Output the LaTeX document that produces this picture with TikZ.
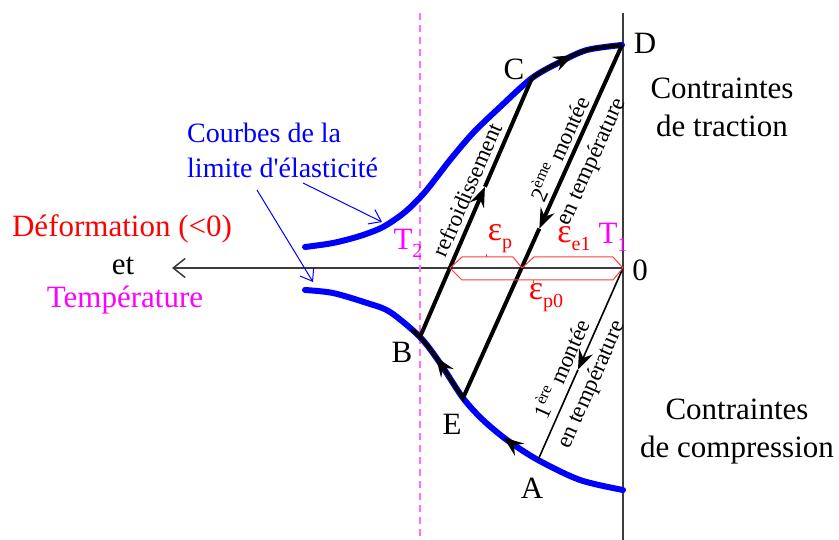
\documentclass[tikz,border=0pt]{standalone}
\usepackage{fontspec}
\setmainfont{Liberation Serif}
\usetikzlibrary{arrows.meta,decorations.markings,calc}
\definecolor{cblue}{RGB}{0,0,255}
\definecolor{cmag}{RGB}{255,0,255}
\definecolor{cred}{RGB}{255,0,0}
\definecolor{cbrace}{RGB}{255,60,60}
\definecolor{cdash}{RGB}{255,110,255}
\definecolor{caxis}{RGB}{60,60,60}
\newcommand\mysub[1]{\raisebox{-8pt}{\fontsize{20}{20}\selectfont #1}}
\newcommand\myeps{{\fontsize{34}{34}\selectfont ε}}
\begin{document}
\begin{tikzpicture}[x=1pt,y=-1pt,
  txt/.style={font=\fontsize{31}{38}\selectfont, inner sep=0pt, align=center},
  rottxt/.style={font=\fontsize{23}{28}\selectfont, inner sep=0pt},
  blueline/.style={line width=6pt, cblue, line cap=round},
  thickline/.style={line width=4pt, black},
  thinline/.style={line width=1.6pt, black},
  axisline/.style={line width=1.5pt, caxis},
  bracebox/.style={line width=1pt, cbrace, line join=miter},
  pointer/.style={line width=1pt, cblue, -{Straight Barb[length=11pt,width=16pt,line width=1pt]}},
  tiparr/.style={-{Stealth[length=20pt,width=15pt,inset=7pt]}},
  midarr/.style={postaction={decorate}, decoration={markings,
     mark=at position #1 with {\arrow{Stealth[length=20pt,width=15pt,inset=7pt]}}}},
]
\useasboundingbox (0,0) rectangle (839,540);

% key points
\coordinate (O) at (623,268);
\coordinate (A) at (538,460);
\coordinate (B) at (420,337);
\coordinate (C) at (532,78);
\coordinate (D) at (622,45);
\coordinate (E) at (463,398);
\coordinate (X) at (450,268);
\coordinate (Y) at (522,268);
\coordinate (axtop) at (623,13);
\coordinate (axbot) at (623,540);
\coordinate (axleft) at (172,268);
\coordinate (dtop) at (420,13);
\coordinate (dbot) at (420,540);

% axes
\draw[axisline] (axtop) -- (axbot);
\draw[axisline, -{Straight Barb[length=12pt,width=19pt,line width=1.5pt]}] (O) -- (axleft);
\draw[cdash, line width=1.6pt, dash pattern=on 7pt off 5pt] (dtop) -- (dbot);

% yield curves
\def\uppercurve{plot[smooth] coordinates {(305,247) (333,243) (360,236) (383,227) (405,212) (425,192) (450,160) (473,133) (500,107) (532,78) (560,62) (587,50) (622,45)}}
\def\lowercurve{plot[smooth] coordinates {(623,490) (580,480) (538,460) (507,440) (483,420) (463,398) (440,363) (420,337) (390,312) (367,303) (333,293) (305,290)}}
\draw[blueline] \uppercurve;
\draw[blueline, postaction={decorate}, decoration={markings,
   mark=at position 132pt with {\arrow[black]{Stealth[length=20pt,width=15pt,inset=7pt]}}}] \lowercurve;

% black overlays
\begin{scope}
  \clip (531,0) rectangle (640,120);
  \draw[thickline, midarr=340pt] \uppercurve;
\end{scope}
\begin{scope}
  \clip (410,330) rectangle (464,420);
  \draw[thickline, midarr=238pt] \lowercurve;
\end{scope}

% loading lines (arrow tip drawn at the middle)
\coordinate (mBC) at ($(B)!0.58!(C)$);
\coordinate (mDE) at ($(D)!0.52!(E)$);
\coordinate (mOA) at ($(O)!0.53!(A)$);
\draw[thickline, tiparr] (B) -- (mBC);
\draw[thickline] (mBC) -- (C);
\draw[thickline, tiparr] (D) -- (mDE);
\draw[thickline] (mDE) -- (E);
\draw[thinline, tiparr] (O) -- (mOA);
\draw[thinline] (mOA) -- (A);

% braces
\draw[bracebox] (X) -- ++(12,-11) -- (513,257) -- (Y);
\draw[bracebox] (486,257) -- (486,254);
\draw[bracebox] (Y) -- ++(12,-11) -- (613,257) -- (O);
\draw[bracebox] (X) -- ++(12,12) -- (613,280) -- (O);
\draw[bracebox] (533,280) -- (533,283);

% point labels
\node[txt] (lC) at (514,69) {C};
\node[txt] (lD) at (645,43) {D};
\node[txt] (lB) at (402,352) {B};
\node[txt] (lE) at (452,424) {E};
\node[txt] (lA) at (532,488) {A};
\node[txt] (lO) at (640,270) {0};

% temperature labels
\node[txt, text=cmag] (T2) at (408,243) {T\mysub{2}};
\node[txt, text=cmag] (T1) at (613,237) {T\mysub{1}};

% strain labels
\node[txt, text=cred] (ep) at (500,239) {\myeps\mysub{p}};
\node[txt, text=cred] (ee) at (574,239) {\myeps\mysub{e1}};
\node[txt, text=cred] (ep0) at (546,298) {\myeps\mysub{p0}};

% rotated labels
\node[rottxt, rotate=66.6] (refr) at (467,190) {refroidissement};
\node[rottxt, rotate=65.7] (m2a) at (558,148) {2\textsuperscript{ème} montée};
\node[rottxt, rotate=65.7] (m2b) at (592,162) {en température};
\node[rottxt, rotate=66.1] (m1a) at (560,368) {1\textsuperscript{ère} montée};
\node[rottxt, rotate=66.1] (m1b) at (592,385) {en température};

% side texts
\node[txt] (trac) at (722,107) {Contraintes\\de traction};
\node[txt] (comp) at (737,432) {Contraintes\\de compression};
\node[txt, text=cred] (def) at (122,229) {Déformation (<0)};
\node[txt] (et) at (123,266) {et};
\node[txt, text=cmag] (temp) at (125,300) {Température};
\node[txt, text=cblue, align=left, anchor=west, font=\fontsize{28}{35}\selectfont] (courbes) at (187,150) {Courbes de la\\limite d\textquotesingle élasticité};

% pointers
\coordinate (s1) at (303,183);
\coordinate (t1) at (382,222);
\coordinate (s2) at (257,190);
\coordinate (t2) at (313,282);
\draw[pointer] (s1) -- (t1);
\draw[pointer] (s2) -- (t2);
\end{tikzpicture}
\end{document}
